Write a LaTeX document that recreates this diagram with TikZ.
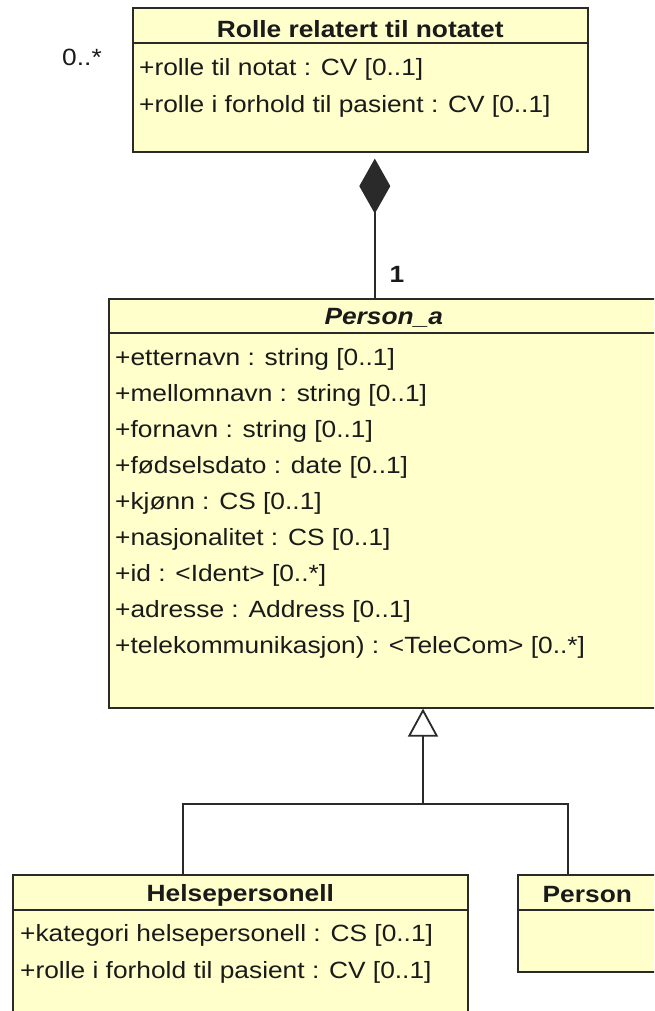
\documentclass[tikz,border=0pt]{standalone}
\usepackage{fontspec}
\setmainfont{Liberation Sans}[FakeStretch=1.12]
\usetikzlibrary{arrows.meta}
\definecolor{umlfill}{HTML}{FFFFCC}
\definecolor{umlborder}{HTML}{2A2A2A}
\definecolor{umltext}{HTML}{1A1A1A}
\tikzset{
  umlclass/.style={draw=umlborder, fill=umlfill, line width=1.6pt, anchor=north west, inner sep=0pt},
  classname/.style={font=\fontsize{23.5}{28}\selectfont\bfseries, text=umltext, inner sep=0pt},
  attr/.style={font=\fontsize{23.5}{28}\selectfont, text=umltext, anchor=west, inner sep=0pt},
  mult/.style={font=\fontsize{23.5}{28}\selectfont, text=umltext, inner sep=0pt},
  umlline/.style={draw=umlborder, line width=1.6pt},
  conn/.style={draw=umlborder, line width=1.8pt},
}

\begin{document}
\begin{tikzpicture}[x=1pt,y=-1pt]
\useasboundingbox (0,0) rectangle (654,1011);
\clip (0,0) rectangle (654,1011);
\fill[white] (0,0) rectangle (654,1011);

% Rolle relatert til notatet
\node[umlclass, minimum width=455pt, minimum height=144pt] (rolle) at (132,7) {};
\draw[umlline] ([yshift=-36pt]rolle.north west) -- ([yshift=-36pt]rolle.north east);
\node[classname] (rolletitle) at ([yshift=-22pt]rolle.north) {Rolle relatert til notatet};
\node[attr] (rolleattr1) at (139,69) {+rolle til notat : CV [0..1]};
\node[attr] (rolleattr2) at (139,106) {+rolle i forhold til pasient : CV [0..1]};

% Person_a
\node[umlclass, minimum width=550pt, minimum height=409pt] (pa) at (108,298) {};
\draw[umlline] ([yshift=-35pt]pa.north west) -- ([yshift=-35pt]pa.north east);
\node[classname, font=\fontsize{23.5}{28}\selectfont\bfseries\itshape] (patitle) at ([yshift=-20pt]pa.north) {Person\_a};
\node[attr] (paattr1) at (115,359) {+etternavn : string [0..1]};
\node[attr] (paattr2) at (115,395) {+mellomnavn : string [0..1]};
\node[attr] (paattr3) at (115,431) {+fornavn : string [0..1]};
\node[attr] (paattr4) at (115,467) {+fødselsdato : date [0..1]};
\node[attr] (paattr5) at (115,503) {+kjønn : CS [0..1]};
\node[attr] (paattr6) at (115,539) {+nasjonalitet : CS [0..1]};
\node[attr] (paattr7) at (115,575) {+id : <Ident> [0..*]};
\node[attr] (paattr8) at (115,611) {+adresse : Address [0..1]};
\node[attr] (paattr9) at (115,647) {+telekommunikasjon) : <TeleCom> [0..*]};

% Helsepersonell
\node[umlclass, minimum width=455pt, minimum height=170pt] (helse) at (12,874) {};
\draw[umlline] ([yshift=-36pt]helse.north west) -- ([yshift=-36pt]helse.north east);
\node[classname] (helsetitle) at ([yshift=-21pt]helse.north) {Helsepersonell};
\node[attr] (helseattr1) at (20,935) {+kategori helsepersonell : CS [0..1]};
\node[attr] (helseattr2) at (20,972) {+rolle i forhold til pasient : CV [0..1]};

% Person
\node[umlclass, minimum width=139pt, minimum height=97pt] (person) at (517,874) {};
\draw[umlline] ([yshift=-36pt]person.north west) -- ([yshift=-36pt]person.north east);
\node[classname] (persontitle) at ([yshift=-21pt]person.north) {Person};

% komposisjon
\draw[conn, {Diamond[length=55pt,width=31pt]}-, shorten <=6pt] ([xshift=14.5pt]rolle.south) -- ([xshift=14.5pt]rolle.south |- pa.north);
\node[mult] (multone) at (397,274) {\bfseries 1};
\node[mult] (multmany) at (82,57) {0..*};

% generalisering
\coordinate (join) at (423,804);
\draw[conn, -{Triangle[length=28pt,width=30pt,fill=white]}] ([xshift=-57.5pt]helse.north) |- (join) -- (join |- pa.south);
\draw[conn] ([xshift=-19.5pt]person.north) |- (join);
\end{tikzpicture}
\end{document}
